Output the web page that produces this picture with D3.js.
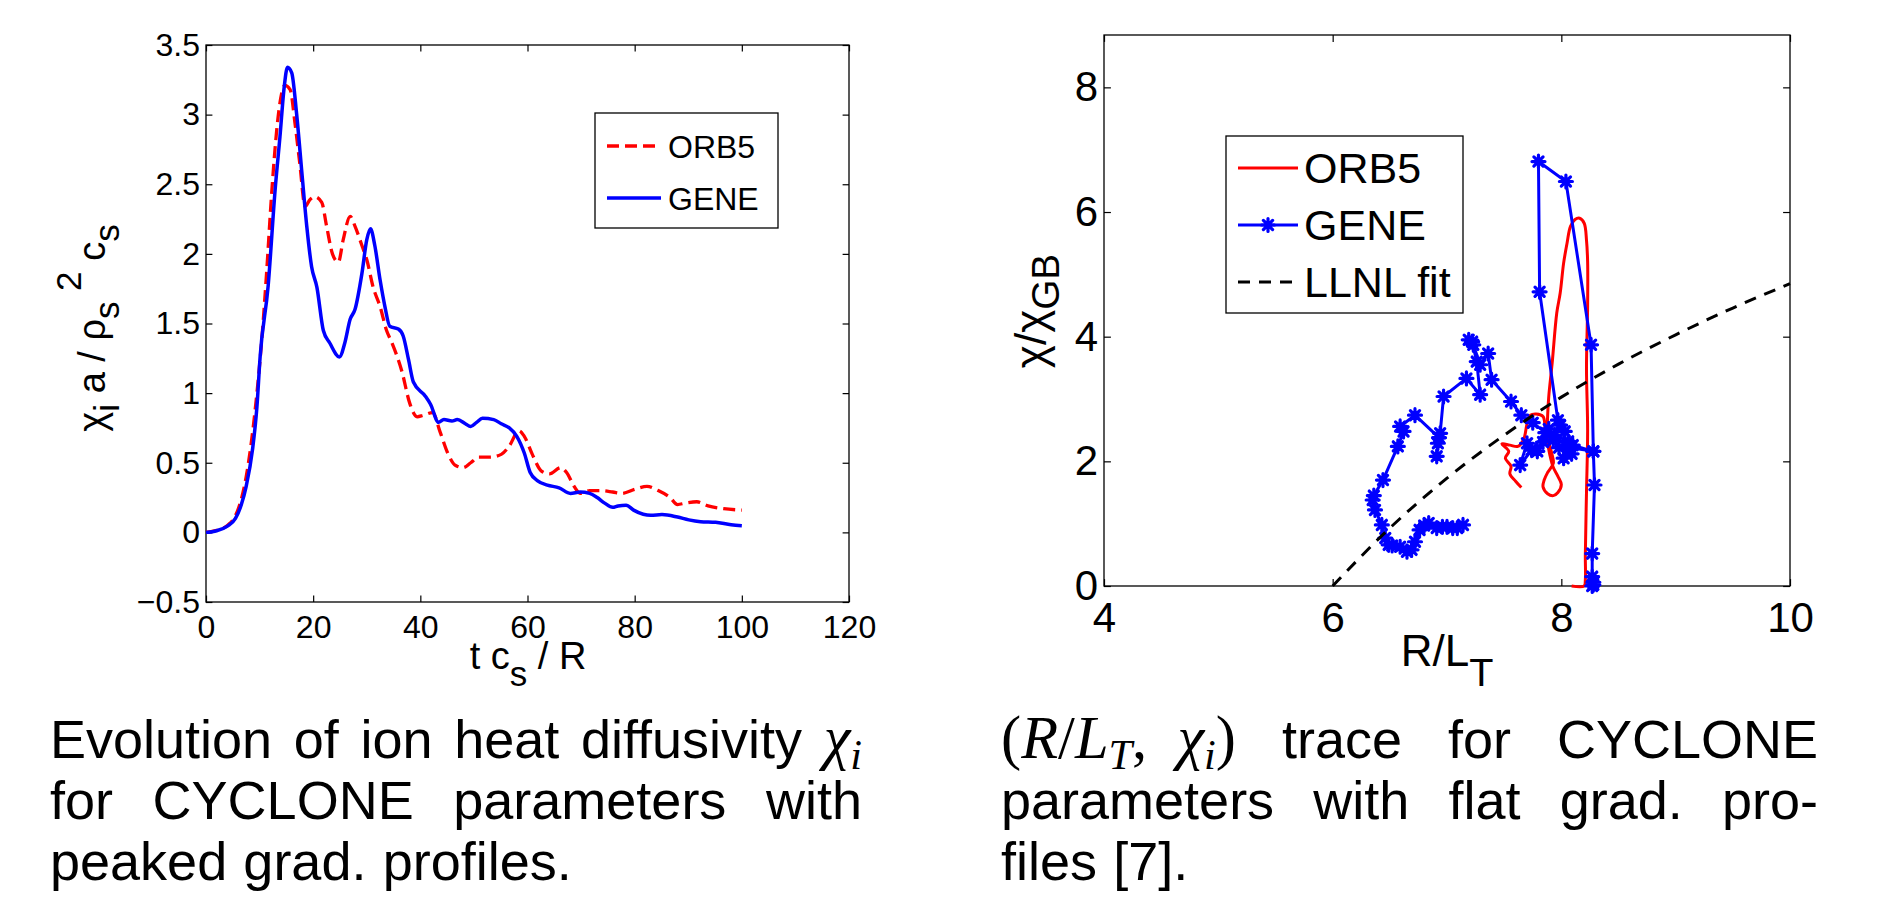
<!DOCTYPE html>
<html><head><meta charset="utf-8">
<script src="https://cdn.jsdelivr.net/npm/d3@7"></script>
<style>
body{margin:0;background:#fff}
svg{display:block}
text{font-family:"Liberation Sans",Arial,Helvetica,sans-serif;fill:#000}
</style>
</head><body>
<svg id="c" width="1878" height="906"></svg>
<script>
// ---------------- DATA: left chart (chi_i vs t c_s/R) ----------------
const geneT = [0,2,4,5.5,6.6,7.5,8.7,9.5,10.1,11.6,12.9,13.8,14.6,15.2,16.0,16.9,17.9,18.8,19.7,20.7,21.9,23.1,24.9,25.9,26.9,27.8,29.1,30.0,30.7,31.5,32.5,33.4,34.3,35.9,36.8,37.8,38.7,40.9,41.9,43.4,44.4,45.9,46.9,48.4,49.4,50.5,51.6,53.7,55.1,56.6,58,59.4,60.5,61.9,63.7,65.9,68,69.8,71.6,73,74.4,75.9,76.9,78.4,79.8,81.6,83,85.1,88,90.1,92.3,95.1,98,100];
const geneV = [0,0.012,0.045,0.10,0.20,0.33,0.60,0.90,1.26,1.77,2.46,2.84,3.20,3.34,3.30,3.01,2.58,2.20,1.91,1.76,1.45,1.36,1.26,1.36,1.53,1.60,1.86,2.10,2.18,2.06,1.81,1.62,1.48,1.46,1.41,1.24,1.08,0.98,0.92,0.79,0.81,0.80,0.81,0.78,0.76,0.79,0.82,0.81,0.78,0.75,0.69,0.57,0.43,0.37,0.34,0.32,0.28,0.29,0.28,0.25,0.21,0.18,0.19,0.195,0.16,0.13,0.123,0.128,0.11,0.09,0.077,0.072,0.055,0.048];
const orbT = [0,2,4,5.5,6.6,7.5,8.7,9.5,10.4,11.3,12.3,13.2,14.1,14.7,15.7,16.6,17.5,18.5,19.4,20.3,21.6,22.5,23.6,24.7,25.6,26.9,27.8,29.1,30.0,31.2,32.5,33.7,34.6,36.6,38,39.4,40.5,42.3,43.7,45.1,46.6,48,49.4,50.9,53,55.1,56.6,58.4,59.4,60.9,62.6,64.1,66.2,67.3,68.7,69.8,71.6,73.7,75.9,77.6,80.1,82.3,84.4,86.6,88,89.4,91.6,93.7,96.6,100];
const orbV = [0,0.015,0.05,0.12,0.24,0.40,0.72,1.00,1.38,1.86,2.46,2.89,3.15,3.21,3.18,2.94,2.65,2.34,2.39,2.41,2.37,2.20,2.00,1.94,2.10,2.27,2.20,2.06,1.96,1.76,1.62,1.45,1.37,1.15,0.93,0.83,0.84,0.86,0.72,0.57,0.48,0.465,0.50,0.54,0.54,0.56,0.62,0.73,0.69,0.56,0.44,0.42,0.465,0.43,0.33,0.28,0.30,0.30,0.29,0.28,0.31,0.33,0.30,0.25,0.20,0.21,0.22,0.19,0.17,0.16];
const leftXTicks = [0,20,40,60,80,100,120];
const leftXTickLabels = ["0","20","40","60","80","100","120"];
const leftYTicks = [-0.5,0,0.5,1,1.5,2,2.5,3,3.5];
const leftYTickLabels = ["\u22120.5","0","0.5","1","1.5","2","2.5","3","3.5"];
const leftSeries = ["ORB5","GENE"];

// ---------------- DATA: right chart (R/L_T, chi) trace ----------------
const traceGeneX = [8.27,8.28,8.28,8.27,8.27,8.29,8.28,8.26,8.04,7.80,7.81,7.97,8.03,7.99,7.94,8.06,7.98,8.09,8.02,8.07,8.28,8.10,7.93,7.89,7.84,7.79,7.70,7.64,7.74,7.86,7.75,7.65,7.56,7.39,7.36,7.29,7.23,7.19,7.22,7.26,7.29,7.17,6.97,6.94,6.92,6.91,6.93,6.72,6.59,6.62,6.57,6.44,6.36,6.35,6.37,6.43,6.46,6.49,6.52,6.59,6.65,6.69,6.72,6.76,6.80,6.84,6.91,6.96,7.00,7.05,7.09,7.14];
const traceGeneY = [0.00,0.02,0.06,0.15,0.52,1.62,2.16,3.87,6.49,6.81,4.72,2.66,2.48,2.58,2.42,2.32,2.22,2.12,2.05,2.22,2.16,2.26,2.34,2.52,2.31,2.16,2.29,1.94,2.18,2.46,2.62,2.74,2.96,3.31,3.73,3.55,3.87,3.95,3.92,3.60,3.07,3.33,3.04,2.45,2.29,2.08,2.38,2.74,2.56,2.48,2.24,1.70,1.45,1.38,1.22,0.98,0.77,0.66,0.65,0.63,0.55,0.58,0.71,0.90,0.97,1.01,0.93,0.95,0.95,0.93,0.93,0.98];
const traceOrbX = [8.09,8.20,8.21,8.21,8.22,8.23,8.22,8.23,8.23,8.22,8.20,8.16,8.12,8.08,8.05,8.02,7.99,7.96,7.92,7.89,7.88,7.88,7.92,7.93,7.88,7.85,7.84,7.88,7.93,7.97,8.00,7.97,7.93,7.90,7.86,7.84,7.78,7.73,7.70,7.67,7.62,7.55,7.48,7.54,7.51,7.56,7.55,7.60,7.65];
const traceOrbY = [0.00,0.00,0.10,0.50,1.50,2.50,3.50,4.50,5.20,5.55,5.82,5.90,5.88,5.77,5.50,5.18,4.70,4.38,3.58,3.04,2.72,2.40,2.10,1.97,1.82,1.70,1.59,1.48,1.45,1.50,1.63,1.76,1.90,2.10,2.50,2.72,2.76,2.74,2.60,2.35,2.24,2.26,2.28,2.16,2.05,1.92,1.80,1.68,1.58];
const fitX = [6,6.5,7,7.5,8,8.5,9,9.5,10];
const fitY = [0,0.93,1.73,2.42,3.03,3.56,4.03,4.46,4.85];
const rightXTicks = [4,6,8,10];
const rightYTicks = [0,2,4,6,8];
const rightSeries = ["ORB5","GENE","LLNL fit"];

// ---------------- captions ----------------
const M = 1, S = 2; // M: math italic, S: serif upright
const capLeft = [
  [[{t:"Evolution"}],[{t:"of"}],[{t:"ion"}],[{t:"heat"}],[{t:"diffusivity"}],[{t:"\u03C7",m:M},{t:"i",m:M,sub:1}]],
  [[{t:"for"}],[{t:"CYCLONE"}],[{t:"parameters"}],[{t:"with"}]],
  [[{t:"peaked"}],[{t:"grad."}],[{t:"profiles."}]]
];
const capRight = [
  [[{t:"(",m:S},{t:"R",m:M},{t:"/",m:S},{t:"L",m:M},{t:"T",m:M,sub:1},{t:",\u2002",m:S},{t:"\u03C7",m:M},{t:"i",m:M,sub:1},{t:")",m:S}],[{t:"trace"}],[{t:"for"}],[{t:"CYCLONE"}]],
  [[{t:"parameters"}],[{t:"with"}],[{t:"flat"}],[{t:"grad."}],[{t:"pro-"}]],
  [[{t:"files"}],[{t:"[7]."}]]
];

// ---------------- drawing ----------------
const svg = d3.select("#c");
const BLUE = "#0000ff", RED = "#ff0000";

function frame(x, y, xt, xl, yt, yl, fs, tl, padX, padY) {
  const g = svg.append("g");
  const [x0, x1] = x.range(), [y0, y1] = y.range();
  const ax = g.append("g").attr("transform", `translate(0,${y0})`)
    .call(d3.axisBottom(x).tickValues(xt).tickSize(-tl).tickSizeOuter(0).tickPadding(padY).tickFormat((d,i)=>xl[i]));
  const at = g.append("g").attr("transform", `translate(0,${y1})`)
    .call(d3.axisTop(x).tickValues(xt).tickSize(-tl).tickSizeOuter(0).tickFormat(""));
  const ay = g.append("g").attr("transform", `translate(${x0},0)`)
    .call(d3.axisLeft(y).tickValues(yt).tickSize(-tl).tickSizeOuter(0).tickPadding(padX).tickFormat((d,i)=>yl[i]));
  const ar = g.append("g").attr("transform", `translate(${x1},0)`)
    .call(d3.axisRight(y).tickValues(yt).tickSize(-tl).tickSizeOuter(0).tickFormat(""));
  [ax, at, ay, ar].forEach(a => {
    a.select(".domain").remove();
    a.attr("font-size", fs).attr("font-family", null);
    a.selectAll(".tick line").attr("stroke", "#000").attr("stroke-width", 1.2);
    a.selectAll(".tick text").attr("fill", "#000");
  });
  g.append("rect").attr("x", x0).attr("y", y1).attr("width", x1 - x0).attr("height", y0 - y1)
    .attr("fill", "none").attr("stroke", "#000").attr("stroke-width", 1.3);
  return g;
}

function richText(g, runs, fs, opts) {
  opts = opts || {};
  const t = g.append("text").attr("font-size", fs).attr("xml:space", "preserve");
  let shift = 0;
  runs.forEach(r => {
    const ts = t.append("tspan").text(r.t);
    const base = r.m ? fs * (opts.mathScale || 1) : fs;
    if (r.m === M) ts.attr("font-family", '"Liberation Serif", serif').attr("font-style", "italic");
    if (r.m === S) ts.attr("font-family", '"Liberation Serif", serif');
    const target = r.sub ? fs * (opts.subShift || 0.22) : (r.sup ? -fs * (opts.supShift || 0.6) : 0);
    if (target !== shift) { ts.attr("dy", target - shift); shift = target; }
    ts.attr("font-size", (r.sub || r.sup) ? base * (opts.subScale || 0.7) : base);
  });
  return t;
}

// ---------- left chart ----------
const xL = d3.scaleLinear().domain([0, 120]).range([206, 849]);
const yL = d3.scaleLinear().domain([-0.5, 3.5]).range([602, 45]);
frame(xL, yL, leftXTicks, leftXTickLabels, leftYTicks, leftYTickLabels, 32, 6.4, 6, 13);

const lineL = d3.line().x(d => xL(d[0])).y(d => yL(d[1])).curve(d3.curveMonotoneX);
const orbPts = orbT.map((t, i) => [t, orbV[i]]);
const genePts = geneT.map((t, i) => [t, geneV[i]]);
svg.append("path").attr("d", lineL(orbPts)).attr("fill", "none").attr("stroke", RED)
  .attr("stroke-width", 3.3).attr("stroke-dasharray", "12,6");
svg.append("path").attr("d", lineL(genePts)).attr("fill", "none").attr("stroke", BLUE)
  .attr("stroke-width", 3.5);

// left legend
const lgL = svg.append("g");
lgL.append("rect").attr("x", 595).attr("y", 113).attr("width", 183).attr("height", 115)
  .attr("fill", "#fff").attr("stroke", "#000").attr("stroke-width", 1.3);
[[146, RED, "12,6"], [198, BLUE, null]].forEach((e, i) => {
  lgL.append("line").attr("x1", 607).attr("x2", 661).attr("y1", e[0]).attr("y2", e[0])
    .attr("stroke", e[1]).attr("stroke-width", 3.3).attr("stroke-dasharray", e[2]);
  lgL.append("text").attr("x", 668).attr("y", e[0]).attr("dy", "0.36em").attr("font-size", 32).text(leftSeries[i]);
});

// left axis labels
{
  const t = richText(svg.append("g").attr("transform", "translate(528,669)"),
    [{t:"t c"},{t:"s",sub:1},{t:" / R"}], 38, {subShift:0.45, subScale:0.92});
  t.attr("text-anchor", "middle");
  const g = svg.append("g").attr("transform", "translate(105,328) rotate(-90)");
  const ty = richText(g, [{t:"\u03C7"},{t:"i",sub:1},{t:" a / \u03C1"},{t:"s",sub:1},{t:" "},{t:"2",sup:1},{t:" c"},{t:"s",sub:1}], 38,
    {subShift:0.38, supShift:0.62, subScale:0.92});
  ty.attr("text-anchor", "middle");
}

// ---------- right chart ----------
const xR = d3.scaleLinear().domain([4, 10]).range([1104, 1790]);
const yR = d3.scaleLinear().domain([0, 8.84]).range([586, 35]);
frame(xR, yR, rightXTicks, rightXTicks.map(String), rightYTicks, rightYTicks.map(String), 42, 6.9, 6, 16);

const orbR = traceOrbX.map((v, i) => [v, traceOrbY[i]]);
const geneR = traceGeneX.map((v, i) => [v, traceGeneY[i]]);
const fitR = fitX.map((v, i) => [v, fitY[i]]);
svg.append("path").attr("d", d3.line().x(d => xR(d[0])).y(d => yR(d[1])).curve(d3.curveCatmullRom.alpha(0.5))(orbR)).attr("fill", "none")
  .attr("stroke", RED).attr("stroke-width", 3).attr("stroke-linejoin", "round");
svg.append("path").attr("d", d3.line().x(d => xR(d[0])).y(d => yR(d[1]))(geneR)).attr("fill", "none")
  .attr("stroke", BLUE).attr("stroke-width", 3).attr("stroke-linejoin", "round");
const star = "M-6.5,0L6.5,0M0,-6.5L0,6.5M-4.6,-4.6L4.6,4.6M-4.6,4.6L4.6,-4.6";
svg.append("g").selectAll("path").data(geneR).join("path")
  .attr("transform", d => `translate(${xR(d[0])},${yR(d[1])})`)
  .attr("d", star).attr("fill", "none").attr("stroke", BLUE).attr("stroke-width", 3.2).attr("stroke-linecap", "round");
svg.append("path").attr("d", d3.line().x(d => xR(d[0])).y(d => yR(d[1])).curve(d3.curveMonotoneX)(fitR))
  .attr("fill", "none").attr("stroke", "#000").attr("stroke-width", 3).attr("stroke-dasharray", "12,9");

// right legend
const lgR = svg.append("g");
lgR.append("rect").attr("x", 1226).attr("y", 136).attr("width", 237).attr("height", 177)
  .attr("fill", "#fff").attr("stroke", "#000").attr("stroke-width", 1.3);
[[168, RED, null], [225, BLUE, null], [282, "#000", "12,9"]].forEach((e, i) => {
  lgR.append("line").attr("x1", 1238).attr("x2", 1298).attr("y1", e[0]).attr("y2", e[0])
    .attr("stroke", e[1]).attr("stroke-width", 3).attr("stroke-dasharray", e[2]);
  lgR.append("text").attr("x", 1304).attr("y", e[0]).attr("dy", "0.36em").attr("font-size", 43).text(rightSeries[i]);
});
lgR.append("path").attr("transform", "translate(1268,225)").attr("d", star)
  .attr("fill", "none").attr("stroke", BLUE).attr("stroke-width", 3.2).attr("stroke-linecap", "round");

// right axis labels
{
  const t = richText(svg.append("g").attr("transform", "translate(1447,666)"),
    [{t:"R/L"},{t:"T",sub:1}], 44, {subShift:0.45, subScale:0.9});
  t.attr("text-anchor", "middle");
  const g = svg.append("g").attr("transform", "translate(1046,311) rotate(-90)");
  const ty = richText(g, [{t:"\u03C7/\u03C7"},{t:"GB",sub:1}], 44, {subShift:0.3, subScale:0.88});
  ty.attr("text-anchor", "middle");
}

// ---------- captions ----------
function caption(lines, x0, x1, y0, lh, fs) {
  const g = svg.append("g");
  lines.forEach((words, li) => {
    const y = y0 + li * lh;
    const nodes = words.map(w => richText(g, w, fs, {subShift:0.2, subScale:0.7, mathScale:1.12}).attr("y", y));
    const widths = nodes.map(n => n.node().getComputedTextLength());
    const justify = li < lines.length - 1;
    const total = d3.sum(widths);
    const gap = justify ? (x1 - x0 - total) / (words.length - 1) : fs * 0.3;
    let x = x0;
    nodes.forEach((n, i) => { n.attr("x", x); x += widths[i] + gap; });
  });
}
caption(capLeft, 50, 862, 758, 61, 54);
caption(capRight, 1001, 1818, 758, 61, 54);
</script>
</body></html>
